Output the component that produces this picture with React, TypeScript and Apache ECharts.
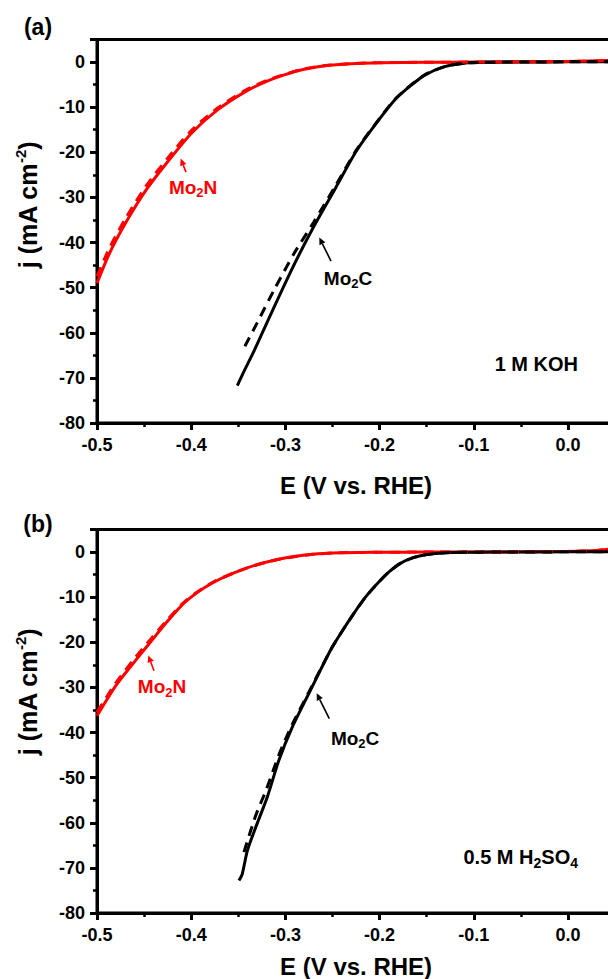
import React, { useEffect, useRef } from 'react';
import * as echarts from 'echarts';

// ---------- data (E in V vs. RHE, j in mA cm^-2) ----------
const xTickValues = [-0.5, -0.4, -0.3, -0.2, -0.1, 0.0];
const yTickValues = [0, -10, -20, -30, -40, -50, -60, -70, -80];

// (a) 1 M KOH
const kohMo2nSolidE = [-0.5, -0.487, -0.47, -0.448, -0.425, -0.399, -0.372, -0.342, -0.32, -0.302, -0.28, -0.254, -0.225, -0.2, -0.15, -0.1, -0.05, 0.0, 0.05];
const kohMo2nSolidJ = [-49.0, -42.5, -35.8, -28.4, -22.1, -15.6, -10.6, -6.5, -4.3, -2.9, -1.6, -0.7, -0.3, -0.15, -0.05, 0, 0.05, 0.15, 0.35];
const kohMo2nDashE = [-0.5, -0.487, -0.47, -0.448, -0.425, -0.399, -0.372, -0.342, -0.32, -0.302, -0.28, -0.254, -0.225, -0.2, -0.15, -0.1, -0.05, 0.0, 0.05];
const kohMo2nDashJ = [-47.5, -41.3, -34.8, -27.5, -21.3, -15.0, -10.2, -6.2, -4.1, -2.8, -1.5, -0.7, -0.3, -0.15, -0.05, 0, 0.05, 0.15, 0.3];
const kohMo2cSolidE = [-0.351, -0.345, -0.333, -0.312, -0.291, -0.27, -0.247, -0.224, -0.2, -0.183, -0.168, -0.152, -0.131, -0.11, -0.09, -0.05, 0.0, 0.05];
const kohMo2cSolidJ = [-71.7, -69.0, -63.9, -54.3, -45.0, -36.5, -28.0, -19.5, -12.6, -8.2, -5.4, -2.9, -1.0, -0.25, -0.05, 0, 0.05, 0.1];
const kohMo2cDashE = [-0.343, -0.33, -0.312, -0.291, -0.27, -0.247, -0.224, -0.2, -0.183, -0.168, -0.152, -0.131, -0.11, -0.09, -0.05, 0.0, 0.05];
const kohMo2cDashJ = [-63.0, -57.8, -50.5, -42.5, -35.5, -27.5, -19.3, -12.5, -8.1, -5.3, -2.8, -1.0, -0.25, -0.05, 0, 0.05, 0.1];

// (b) 0.5 M H2SO4
const acidMo2nSolidE = [-0.5, -0.48, -0.459, -0.443, -0.427, -0.406, -0.378, -0.342, -0.307, -0.271, -0.24, -0.2, -0.15, -0.1, -0.05, 0.0, 0.03, 0.05];
const acidMo2nSolidJ = [-36.3, -29.6, -24.0, -19.9, -15.8, -11.0, -6.9, -3.6, -1.6, -0.5, -0.15, -0.05, 0, 0, 0.05, 0.15, 0.35, 0.8];
const acidMo2nDashE = [-0.5, -0.48, -0.459, -0.443, -0.427, -0.406, -0.378, -0.342, -0.307, -0.271, -0.24, -0.2, -0.15, -0.1, -0.05, 0.0, 0.03, 0.05];
const acidMo2nDashJ = [-35.5, -29.0, -23.3, -19.3, -15.4, -10.8, -6.8, -3.6, -1.6, -0.5, -0.15, -0.05, 0, 0, 0.05, 0.15, 0.35, 0.8];
const acidMo2cSolidE = [-0.3493, -0.346, -0.3404, -0.3315, -0.3192, -0.307, -0.2927, -0.275, -0.252, -0.24, -0.228, -0.215, -0.2006, -0.19, -0.178, -0.165, -0.15, -0.13, -0.11, -0.08, 0.0, 0.05];
const acidMo2cSolidJ = [-72.8, -71.5, -66.2, -61.0, -54.3, -46.2, -38.8, -31.3, -21.7, -17.6, -13.8, -10.0, -6.6, -4.4, -2.5, -1.3, -0.55, -0.15, -0.05, 0, 0.05, 0.1];
const acidMo2cDashE = [-0.344, -0.3315, -0.32, -0.307, -0.293, -0.275, -0.252, -0.24, -0.228, -0.215, -0.2006, -0.19, -0.178, -0.165, -0.15, -0.13, -0.11, -0.08, 0.0, 0.05];
const acidMo2cDashJ = [-66.5, -58.4, -52.5, -45.0, -38.3, -31.0, -21.7, -17.6, -13.8, -10.0, -6.6, -4.4, -2.5, -1.3, -0.55, -0.15, -0.05, 0, 0.05, 0.1];

// annotation anchors in data coordinates
const panelLabels = ['(a)', '(b)'];
const electrolytes = ['1 M KOH', '0.5 M H{s|2}SO{s|4}'];
const electrolyteAt = [[0.0106, -67.0], [0.0106, -67.6]];
const materialNames = ['Mo{s|2}N', 'Mo{s|2}C'];
const labelAt = [
  [[-0.398, -27.8], [-0.2335, -47.9]],
  [[-0.431, -29.8], [-0.226, -41.3]],
];
const arrowFrom = [
  [[-0.4055, -24.4], [-0.2516, -44.1]],
  [[-0.4395, -26.3], [-0.2534, -36.9]],
];
const arrowTo = [
  [[-0.4112, -21.4], [-0.264, -38.9]],
  [[-0.4455, -22.9], [-0.2668, -31.3]],
];

const RED = '#ff0000';
const BLACK = '#000000';
const FONT = '"Liberation Sans", Arial, Helvetica, sans-serif';

const zip = (e: number[], j: number[]) => e.map((v, i) => [v, j[i]]);

const gridTops = [39.5, 529.5];
const gridHeight = 383.5;
const gridLeft = 97;
const gridWidth = 518.1;
const xNameGaps = [50, 41];
const panelLabelY = [27, 524];
const yTitleCenter = [205, 692];

function App() {
  const ref = useRef<HTMLDivElement>(null);

  useEffect(() => {
    if (!ref.current) return;
    const chart = echarts.init(ref.current, undefined, { renderer: 'svg' });

    const xAxis = [0, 1].map((g) => ({
      gridIndex: g,
      type: 'value',
      min: -0.5,
      max: 0.05,
      interval: 0.1,
      name: 'E (V vs. RHE)',
      nameLocation: 'middle',
      nameGap: xNameGaps[g],
      nameTextStyle: { fontSize: 24, fontWeight: 'bold', color: BLACK, fontFamily: FONT },
      axisLine: { show: true, onZero: false, lineStyle: { color: BLACK, width: 3 } },
      axisTick: { show: true, inside: false, length: 7, lineStyle: { color: BLACK, width: 3 } },
      minorTick: { show: true, splitNumber: 2, length: 4, lineStyle: { color: BLACK, width: 2.5 } },
      splitLine: { show: false },
      axisLabel: {
        margin: 13,
        fontSize: 18,
        fontWeight: 'bold',
        color: BLACK,
        fontFamily: FONT,
        formatter: (v: number) => {
          const hit = xTickValues.find((t) => Math.abs(t - v) < 1e-6);
          return hit === undefined ? '' : hit.toFixed(1);
        },
      },
    }));

    const yAxis = [0, 1].map((g) => ({
      gridIndex: g,
      type: 'value',
      min: -80,
      max: 5,
      interval: 10,
      axisLine: { show: true, onZero: false, lineStyle: { color: BLACK, width: 3 } },
      axisTick: { show: true, inside: false, length: 7, lineStyle: { color: BLACK, width: 3 } },
      minorTick: { show: true, splitNumber: 2, length: 4, lineStyle: { color: BLACK, width: 2.5 } },
      splitLine: { show: false },
      axisLabel: {
        margin: 12,
        fontSize: 18,
        fontWeight: 'bold',
        color: BLACK,
        fontFamily: FONT,
        formatter: (v: number) => {
          const hit = yTickValues.find((t) => Math.abs(t - v) < 1e-6);
          return hit === undefined ? '' : String(hit);
        },
      },
    }));

    const line = (g: number, e: number[], j: number[], color: string, dashed: boolean) => ({
      type: 'line',
      xAxisIndex: g,
      yAxisIndex: g,
      data: zip(e, j),
      showSymbol: false,
      symbol: 'none',
      smooth: 0.25,
      z: dashed ? 3 : 2,
      lineStyle: { color, width: 3, type: dashed ? [10, 7] : 'solid', cap: 'butt' },
    });

    chart.setOption({
      animation: false,
      backgroundColor: '#ffffff',
      grid: gridTops.map((t) => ({
        left: gridLeft,
        top: t,
        width: gridWidth,
        height: gridHeight,
        show: true,
        borderColor: BLACK,
        borderWidth: 3,
        containLabel: false,
        outerBoundsMode: 'none',
      })),
      xAxis,
      yAxis,
      series: [
        line(0, kohMo2nSolidE, kohMo2nSolidJ, RED, false),
        line(0, kohMo2nDashE, kohMo2nDashJ, RED, true),
        line(0, kohMo2cSolidE, kohMo2cSolidJ, BLACK, false),
        line(0, kohMo2cDashE, kohMo2cDashJ, BLACK, true),
        line(1, acidMo2nSolidE, acidMo2nSolidJ, RED, false),
        line(1, acidMo2nDashE, acidMo2nDashJ, RED, true),
        line(1, acidMo2cSolidE, acidMo2cSolidJ, BLACK, false),
        line(1, acidMo2cDashE, acidMo2cDashJ, BLACK, true),
      ],
    });

    const px = (g: number, p: number[]) => chart.convertToPixel({ gridIndex: g }, p) as number[];
    const subRich = (size: number) => ({
      s: { fontSize: size, fontWeight: 'bold', fontFamily: FONT, lineHeight: size, verticalAlign: 'bottom' },
    });
    const supRich = (size: number) => ({
      s: { fontSize: size, fontWeight: 'bold', fontFamily: FONT, lineHeight: size, verticalAlign: 'top' },
    });

    const arrow = (p1: number[], p2: number[], color: string) => {
      const dx = p2[0] - p1[0];
      const dy = p2[1] - p1[1];
      const L = Math.hypot(dx, dy) || 1;
      const ux = dx / L;
      const uy = dy / L;
      const headLen = 7;
      const headW = 3.3;
      const bx = p2[0] - ux * headLen;
      const by = p2[1] - uy * headLen;
      const nx = -uy;
      const ny = ux;
      return [
        { type: 'line', z: 10, shape: { x1: p1[0], y1: p1[1], x2: bx, y2: by }, style: { stroke: color, lineWidth: 1.6 } },
        {
          type: 'polygon',
          z: 10,
          shape: { points: [[p2[0], p2[1]], [bx + nx * headW, by + ny * headW], [bx - nx * headW, by - ny * headW]] },
          style: { fill: color },
        },
      ];
    };

    const graphics: any[] = [];
    [0, 1].forEach((g) => {
      // panel letter
      graphics.push({
        type: 'text',
        x: 38,
        y: panelLabelY[g],
        z: 10,
        style: { text: panelLabels[g], fontSize: 23, fontWeight: 'bold', fontFamily: FONT, fill: BLACK, align: 'center', verticalAlign: 'middle' },
      });
      // y title
      graphics.push({
        type: 'text',
        x: 28,
        y: yTitleCenter[g],
        rotation: Math.PI / 2,
        z: 10,
        style: {
          text: 'j (mA cm{s|-2})',
          rich: supRich(15),
          fontSize: 25,
          lineHeight: 30,
          fontWeight: 'bold',
          fontFamily: FONT,
          fill: BLACK,
          align: 'center',
          verticalAlign: 'middle',
        },
      });
      // electrolyte
      const ep = px(g, electrolyteAt[g]);
      graphics.push({
        type: 'text',
        x: ep[0],
        y: ep[1],
        z: 10,
        style: {
          text: electrolytes[g],
          rich: subRich(14),
          fontSize: 20,
          lineHeight: 25,
          fontWeight: 'bold',
          fontFamily: FONT,
          fill: BLACK,
          align: 'right',
          verticalAlign: 'middle',
        },
      });
      // material labels and arrows
      [0, 1].forEach((m) => {
        const color = m === 0 ? RED : BLACK;
        const lp = px(g, labelAt[g][m]);
        graphics.push({
          type: 'text',
          x: lp[0],
          y: lp[1],
          z: 10,
          style: {
            text: materialNames[m],
            rich: subRich(13),
            fontSize: 19,
            lineHeight: 24,
            fontWeight: 'bold',
            fontFamily: FONT,
            fill: color,
            align: 'center',
            verticalAlign: 'middle',
          },
        });
        graphics.push(...arrow(px(g, arrowFrom[g][m]), px(g, arrowTo[g][m]), color));
      });
    });

    chart.setOption({ graphic: graphics });

    return () => chart.dispose();
  }, []);

  return (
    <div style={{ position: 'absolute', left: 0, top: 0, width: 608, height: 979, overflow: 'hidden', background: '#fff' }}>
      <div ref={ref} style={{ width: 620, height: 979 }} />
    </div>
  );
}

export default App;
